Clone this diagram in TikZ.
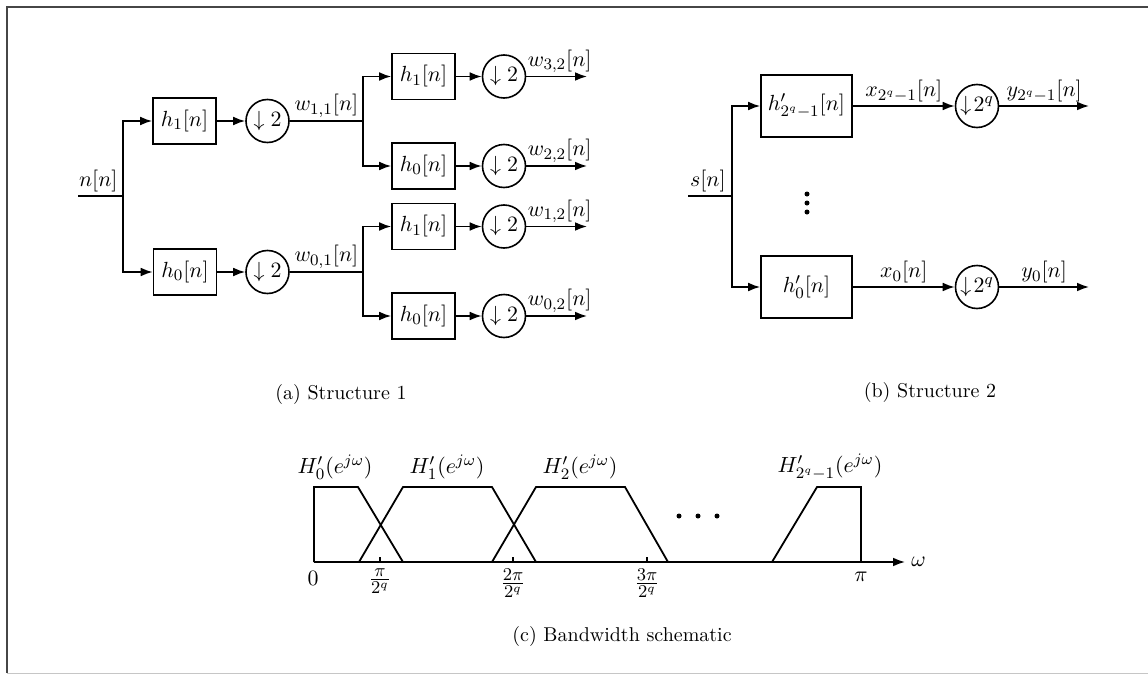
\documentclass[tikz,border=0pt]{standalone}
\usetikzlibrary{arrows.meta}
\begin{document}
\begin{tikzpicture}[x=0.5pt,y=-0.5pt,
  every node/.style={font=\fontsize{11}{13}\selectfont},
  captxt/.style={font=\fontsize{10}{12}\selectfont},
  fractxt/.style={font=\fontsize{12.5}{14}\selectfont, inner sep=1pt},
  blk/.style={draw, line width=0.8pt, minimum width=31.5pt, minimum height=23pt, inner sep=0pt},
  blkb/.style={draw, line width=0.8pt, minimum width=45.5pt, minimum height=31pt, inner sep=0pt},
  dec/.style={draw, circle, line width=0.8pt, minimum size=21.5pt, inner sep=0pt},
  sig/.style={line width=0.8pt},
  arr/.style={sig, -{Latex[length=6pt,width=4.4pt]}},
  lab/.style={inner sep=1.5pt},
  curve/.style={line width=0.9pt, line join=miter},
  dot/.style={fill=black, draw=none, circle, minimum size=2.5pt, inner sep=0pt}
]
\useasboundingbox (0,0) rectangle (1148,675);
% frame
\draw[gray!55!black, line width=1pt] (1150,7) -- (7,7) -- (7,673);
\draw[gray!45, line width=0.7pt] (7,673.5) -- (1150,673.5);

% ---------------- Structure 1 ----------------
\coordinate (a_in) at (78,196);
\coordinate (a_br) at (123,196);
\node[blk] (a_h1) at (184.5,121) {$h_1[n]$};
\node[blk] (a_h0) at (185,272) {$h_0[n]$};
\node[dec] (a_d1) at (267.5,121) {$\downarrow 2$};
\node[dec] (a_d0) at (267.5,272) {$\downarrow 2$};
\draw[sig] (a_in) -- node[above, lab, pos=0.45] {$n[n]$} (a_br);
\draw[arr] (a_br) |- (a_h1);
\draw[arr] (a_br) |- (a_h0);
\draw[arr] (a_h1) -- (a_d1);
\draw[arr] (a_h0) -- (a_d0);
\coordinate (b_br1) at (363,121);
\coordinate (b_br0) at (363,272);
\draw[sig] (a_d1) -- node[above, lab] {$w_{1,1}[n]$} (b_br1);
\draw[sig] (a_d0) -- node[above, lab] {$w_{0,1}[n]$} (b_br0);

\node[blk] (b_h3) at (423.5,76.5) {$h_1[n]$};
\node[blk] (b_h2) at (423.5,166) {$h_0[n]$};
\node[blk] (b_h1) at (423.5,226.5) {$h_1[n]$};
\node[blk] (b_h0) at (423.5,316) {$h_0[n]$};
\node[dec] (b_d3) at (504,76.5) {$\downarrow 2$};
\node[dec] (b_d2) at (504,166) {$\downarrow 2$};
\node[dec] (b_d1) at (504,226.5) {$\downarrow 2$};
\node[dec] (b_d0) at (504,316) {$\downarrow 2$};
\draw[arr] (b_br1) |- (b_h3);
\draw[arr] (b_br1) |- (b_h2);
\draw[arr] (b_br0) |- (b_h1);
\draw[arr] (b_br0) |- (b_h0);
\foreach \k in {0,1,2,3} {\draw[arr] (b_h\k) -- (b_d\k);}
\coordinate (b_o3) at (587,76.5);
\coordinate (b_o2) at (587,166);
\coordinate (b_o1) at (587,226.5);
\coordinate (b_o0) at (587,316);
\draw[arr] (b_d3) -- node[above, lab, pos=0.55] {$w_{3,2}[n]$} (b_o3);
\draw[arr] (b_d2) -- node[above, lab, pos=0.55] {$w_{2,2}[n]$} (b_o2);
\draw[arr] (b_d1) -- node[above, lab, pos=0.55] {$w_{1,2}[n]$} (b_o1);
\draw[arr] (b_d0) -- node[above, lab, pos=0.55] {$w_{0,2}[n]$} (b_o0);

\node[captxt] (capA) at (341,394) {(a) Structure 1};

% ---------------- Structure 2 ----------------
\coordinate (s_in) at (688,196);
\coordinate (s_br) at (732,196);
\node[blkb] (s_hT) at (806.5,106) {$h'_{2^q-1}[n]$};
\node[blkb] (s_h0) at (806.5,287) {$h'_0[n]$};
\node[dec] (s_dT) at (977,106) {$\downarrow\! 2^q$};
\node[dec] (s_d0) at (977,287) {$\downarrow\! 2^q$};
\draw[sig] (s_in) -- node[above, lab, pos=0.45] {$s[n]$} (s_br);
\draw[arr] (s_br) |- (s_hT);
\draw[arr] (s_br) |- (s_h0);
\draw[arr] (s_hT) -- node[above, lab] {$x_{2^q-1}[n]$} (s_dT);
\draw[arr] (s_h0) -- node[above, lab] {$x_0[n]$} (s_d0);
\coordinate (s_oT) at (1089,106);
\coordinate (s_o0) at (1089,287);
\draw[arr] (s_dT) -- node[above, lab] {$y_{2^q-1}[n]$} (s_oT);
\draw[arr] (s_d0) -- node[above, lab] {$y_0[n]$} (s_o0);
\node[dot] (vd1) at (807,194) {};
\node[dot] (vd2) at (807,203) {};
\node[dot] (vd3) at (807,212) {};

\node[captxt] (capB) at (930,392) {(b) Structure 2};

% ---------------- Bandwidth schematic ----------------
\coordinate (ax0) at (314,562);
\coordinate (ax1) at (905,562);
\draw[arr] (ax0) -- (ax1);
\node[anchor=west, inner sep=3pt] (om) at (ax1) {$\omega$};
\draw[curve] (314,562) -- (314,487) -- (358,487) -- (403,562);
\draw[curve] (359,562) -- (403,487) -- (492,487) -- (536,562);
\draw[curve] (492,562) -- (536,487) -- (625,487) -- (668,562);
\draw[curve] (772,562) -- (817,487) -- (861,487) -- (861,562);
\foreach \t in {380,513,647} {\draw[line width=0.6pt] (\t,562) -- (\t,557);}
\node (t0) at (313,578) {$0$};
\node[fractxt, anchor=north] (t1) at (380,566) {$\frac{\pi}{2^q}$};
\node[fractxt, anchor=north] (t2) at (513,566) {$\frac{2\pi}{2^q}$};
\node[fractxt, anchor=north] (t3) at (647,566) {$\frac{3\pi}{2^q}$};
\node (tp) at (861,577) {$\pi$};
\node (H0) at (335,467) {$H'_0(e^{j\omega})$};
\node (H1) at (447,467) {$H'_1(e^{j\omega})$};
\node (H2) at (580,467) {$H'_2(e^{j\omega})$};
\node (HL) at (830,467) {$H'_{2^q-1}(e^{j\omega})$};
\node[dot] (hd1) at (679,516) {};
\node[dot] (hd2) at (698,516) {};
\node[dot] (hd3) at (717,516) {};

\node[captxt] (capC) at (622,636) {(c) Bandwidth schematic};
\end{tikzpicture}
\end{document}
